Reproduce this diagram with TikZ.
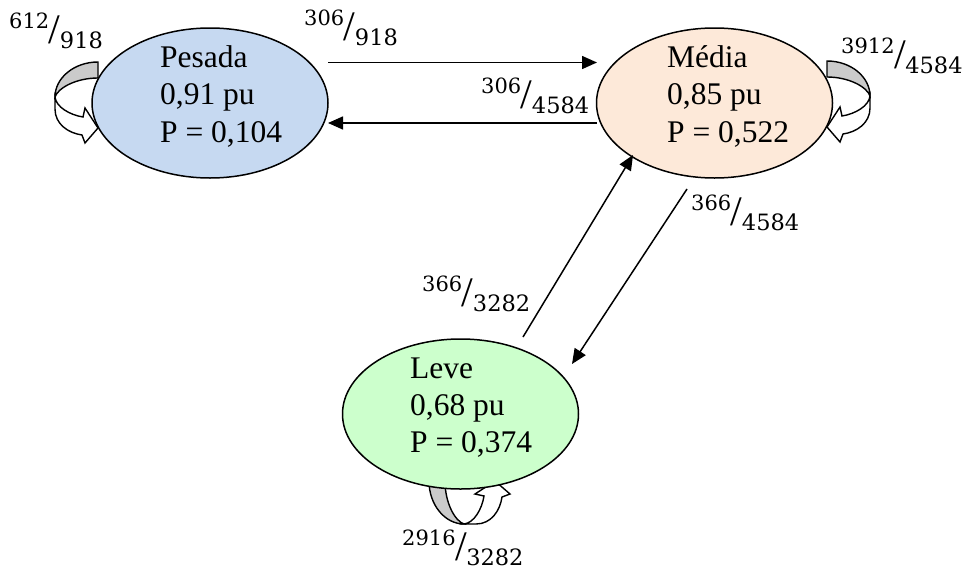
\documentclass[tikz,border=0pt]{standalone}
\usepackage{fontspec}
\setmainfont{Liberation Serif}
\newfontfamily\fracfont{DejaVu Serif}
\usetikzlibrary{shapes.geometric,arrows.meta}
\definecolor{pesfill}{HTML}{C6D9F1}
\definecolor{medfill}{HTML}{FDE9D9}
\definecolor{levfill}{HTML}{CCFFCC}
\definecolor{loopgray}{HTML}{CBCBCB}
\newcommand\frc[2]{{\fracfont\fontsize{21}{24}\selectfont #1}\kern-0.5pt\raisebox{-15pt}{\rmfamily\fontsize{42}{46}\selectfont /}\kern-0.5pt\raisebox{-20.5pt}{\fracfont\fontsize{22.5}{26}\selectfont #2}}
\newcommand\loopshape{%
  \filldraw[loopline,fill=loopgray] (0,0) .. controls (24,0) and (43,16) .. (43,35)
     .. controls (40,26) and (22,16) .. (0,16) -- cycle;
  \filldraw[loopline,fill=white] (43,35) -- (43,47) .. controls (43,62) and (30,71) .. (16,73)
     -- (13,81) -- (0,66) -- (13,46) -- (15,55) .. controls (28,53) and (42,45) .. (43,35) -- cycle;
}
\tikzset{
  state/.style={ellipse, draw=black, line width=1.5pt, minimum width=236pt, minimum height=150pt, inner sep=0pt},
  txt/.style={anchor=base west, inner sep=0pt, font=\fontsize{31.5}{37}\selectfont},
  fr/.style={anchor=base west, inner sep=0pt},
  conn/.style={line width=1.5pt, -{Triangle[length=15pt,width=13pt]}},
  loopline/.style={line width=1.4pt, line join=miter},
}
\begin{document}
\begin{tikzpicture}[x=1pt,y=-1pt]
\useasboundingbox (0,0) rectangle (974,573);
% self loops (drawn behind the ellipses)
\begin{scope}[shift={(827,61)}]\loopshape\end{scope}
\begin{scope}[shift={(98,62)},xscale=-1]\loopshape\end{scope}
\begin{scope}[cm={0,-1,-1,0,(429,481)}]\loopshape\end{scope}
% states
\node[state, fill=pesfill] (pes) at (210,103) {};
\node[state, fill=medfill] (med) at (714.5,103) {};
\node[state, fill=levfill] (lev) at (460.5,414) {};
% texts
\node[txt] (pes1) at (160,67) {Pesada};
\node[txt] (pes2) at (160,104.5) {0,91 pu};
\node[txt] (pes3) at (160,142) {P = 0,104};
\node[txt] (med1) at (667,67) {Média};
\node[txt] (med2) at (667,104.5) {0,85 pu};
\node[txt] (med3) at (667,142) {P = 0,522};
\node[txt] (lev1) at (410,378) {Leve};
\node[txt] (lev2) at (410,415) {0,68 pu};
\node[txt] (lev3) at (410,452) {P = 0,374};
% connector end points
\coordinate (a1) at (328,62.5);
\coordinate (a2) at (597,62.5);
\coordinate (b1) at (597,123);
\coordinate (b2) at (328,123);
\coordinate (c1) at (523,337);
\coordinate (c2) at (633,155);
\coordinate (d1) at (687,189);
\coordinate (d2) at (572,364);
\draw[conn] (a1) -- (a2);
\draw[conn] (b1) -- (b2);
\draw[conn] (c1) -- (c2);
\draw[conn] (d1) -- (d2);
% labels
\node[fr] (f1) at (9,28) {\frc{612}{918}};
\node[fr] (f2) at (304,25) {\frc{306}{918}};
\node[fr] (f3) at (481,93) {\frc{306}{4584}};
\node[fr] (f4) at (841,53) {\frc{3912}{4584}};
\node[fr] (f5) at (691,210) {\frc{366}{4584}};
\node[fr] (f6) at (422,291) {\frc{366}{3282}};
\node[fr] (f7) at (402,545) {\frc{2916}{3282}};
\end{tikzpicture}
\end{document}
